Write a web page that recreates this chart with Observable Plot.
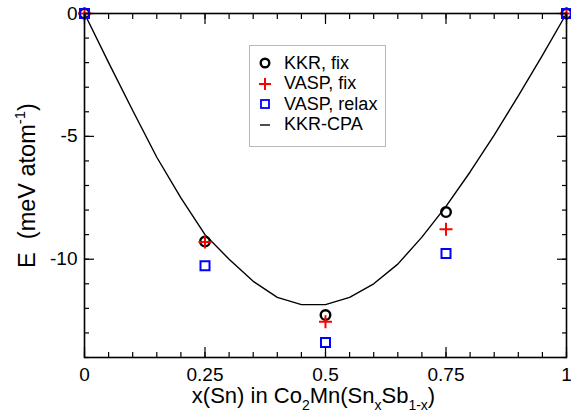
<!DOCTYPE html>
<html>
<head>
<meta charset="utf-8">
<script src="https://cdn.jsdelivr.net/npm/d3@7"></script>
<script src="https://cdn.jsdelivr.net/npm/@observablehq/plot@0.6"></script>
<style>
  body { margin: 0; background: #fff; }
  #wrap { position: relative; width: 571px; height: 414px; font-family: "Liberation Sans", Arial, Helvetica, sans-serif; }
  #legend { position: absolute; left: 249px; top: 45px; width: 137px; height: 102px; border: 1px solid #b8b8b8; box-sizing: border-box; background: #fff; }
  #legend .row { position: absolute; left: 0; height: 20px; display: flex; align-items: center; font-size: 18px; color: #000; white-space: nowrap; }
  #legend svg { width: 20px; height: 20px; }
</style>
</head>
<body>
<div id="wrap"></div>
<script>
// ---- data ----
const xs = [0, 0.25, 0.5, 0.75, 1];
const kkrFix = [0, -9.28, -12.27, -8.08, 0];
const vaspFix = [0, -9.3, -12.54, -8.78, 0];
const vaspRelax = [0, -10.27, -13.39, -9.77, 0];
const cpaX = [0, 0.05, 0.1, 0.15, 0.2, 0.25, 0.3, 0.35, 0.4, 0.45, 0.5, 0.55, 0.6, 0.65, 0.7, 0.75, 0.8, 0.85, 0.9, 0.95, 1];
const cpaE = [0, -2.0, -3.95, -5.85, -7.5, -9.0, -10.0, -10.9, -11.55, -11.85, -11.85, -11.55, -11.0, -10.2, -9.1, -7.85, -6.45, -4.95, -3.35, -1.7, 0];
const xTicks = [0, 0.25, 0.5, 0.75, 1];
const xTickLabels = ["0", "0.25", "0.5", "0.75", "1"];
const yTicks = [0, -5, -10];
const yTickLabels = ["0", "-5", "-10"];
const legendLabels = ["KKR, fix", "VASP, fix", "VASP, relax", "KKR-CPA"];
const xLabelParts = [["x(Sn) in Co", 0], ["2", -1], ["Mn(Sn", 0], ["x", -1], ["Sb", 0], ["1-x", -1], [")", 0]];
const yLabelParts = [["E  (meV atom", 0], ["-1", 1], [")", 0]];

const pts = (ys) => xs.map((x, i) => ({x, y: ys[i]}));
const cpa = cpaX.map((x, i) => ({x, y: cpaE[i]}));
const xMinor = d3.range(0, 1.0001, 0.05);
const yMinor = d3.range(-14, 0.001, 1);

const plusSym = {draw(ctx, size) { const h = Math.sqrt(size / Math.PI); ctx.moveTo(-h, 0); ctx.lineTo(h, 0); ctx.moveTo(0, -h); ctx.lineTo(0, h); }};
const squareSym = {draw(ctx, size) { const h = Math.sqrt(size / Math.PI); ctx.rect(-h, -h, 2 * h, 2 * h); }};

const xPlaceholder = "XLABEL";
const yPlaceholder = "YLABEL";

const plot = Plot.plot({
  width: 571,
  height: 414,
  marginLeft: 84,
  marginRight: 5,
  marginTop: 13,
  marginBottom: 57,
  style: {fontFamily: "'Liberation Sans', Arial, Helvetica, sans-serif", background: "#fff", color: "#000"},
  x: {domain: [0, 1], axis: null},
  y: {domain: [-14, 0], axis: null},
  marks: [
    Plot.line(cpa, {x: "x", y: "y", stroke: "black", strokeWidth: 1.4}),
    Plot.dot(pts(kkrFix), {x: "x", y: "y", r: 4.8, stroke: "black", strokeWidth: 2.4, fill: "none"}),
    Plot.dot(pts(vaspFix), {x: "x", y: "y", r: 6.5, symbol: plusSym, stroke: "#ff0000", strokeWidth: 2, fill: "none"}),
    Plot.dot(pts(vaspRelax), {x: "x", y: "y", r: 4.5, symbol: squareSym, stroke: "#0000ff", strokeWidth: 2, fill: "none"}),
    // ticks (inward)
    Plot.axisX(xMinor, {anchor: "bottom", tickSize: -5, fill: "none", strokeWidth: 1.2}),
    Plot.axisX(xTicks, {anchor: "bottom", tickSize: -10, fill: "none", strokeWidth: 1.2}),
    Plot.axisX(xMinor, {anchor: "top", tickSize: -5, fill: "none", strokeWidth: 1.2}),
    Plot.axisX(xTicks, {anchor: "top", tickSize: -10, fill: "none", strokeWidth: 1.2}),
    Plot.axisY(yMinor, {anchor: "left", tickSize: -5, fill: "none", strokeWidth: 1.2}),
    Plot.axisY(yTicks, {anchor: "left", tickSize: -10, fill: "none", strokeWidth: 1.2}),
    Plot.axisY(yMinor, {anchor: "right", tickSize: -5, fill: "none", strokeWidth: 1.2}),
    Plot.axisY(yTicks, {anchor: "right", tickSize: -10, fill: "none", strokeWidth: 1.2}),
    // tick labels
    Plot.axisX(xTicks, {anchor: "bottom", tickSize: 0, tickPadding: 10, fontSize: 19, label: null, tickFormat: (d) => xTickLabels[xTicks.indexOf(d)]}),
    Plot.axisY(yTicks, {anchor: "left", tickSize: 0, tickPadding: 7, fontSize: 19, label: null, tickFormat: (d) => yTickLabels[yTicks.indexOf(d)]}),
    Plot.frame({stroke: "black", strokeWidth: 1.6}),
    // axis labels
    Plot.text([xPlaceholder], {frameAnchor: "bottom", textAnchor: "middle", lineAnchor: "middle", dx: -12, dy: 38, fontSize: 22, text: (d) => d}),
    Plot.text([yPlaceholder], {frameAnchor: "left", textAnchor: "middle", lineAnchor: "middle", dx: -57, rotate: -90, fontSize: 23.5, text: (d) => d})
  ]
});

document.getElementById("wrap").appendChild(plot);

function fillParts(placeholder, parts, base) {
  d3.select(plot).selectAll("text").each(function() {
    if (this.textContent !== placeholder) return;
    const t = d3.select(this);
    t.text("").style("white-space", "pre").attr("xml:space", "preserve");
    let cur = 0;
    for (const [s, shift] of parts) {
      const target = shift < 0 ? 0.32 * base : shift > 0 ? -0.42 * base : 0;
      const sp = t.append("tspan").attr("font-size", shift ? Math.round(base * 0.65) : base).text(s);
      if (target - cur !== 0) sp.attr("dy", target - cur);
      cur = target;
    }
  });
}
fillParts(xPlaceholder, xLabelParts, 22);
fillParts(yPlaceholder, yLabelParts, 23.5);

// legend
const legend = d3.select("#wrap").append("div").attr("id", "legend");
const symbols = [
  (g) => g.append("circle").attr("cx", 10).attr("cy", 10).attr("r", 4.3).attr("fill", "none").attr("stroke", "black").attr("stroke-width", 2.4),
  (g) => g.append("path").attr("d", "M4,10H16M10,4V16").attr("stroke", "#ff0000").attr("stroke-width", 2).attr("fill", "none"),
  (g) => g.append("rect").attr("x", 6).attr("y", 6).attr("width", 8).attr("height", 8).attr("stroke", "#0000ff").attr("stroke-width", 1.8).attr("fill", "none"),
  (g) => g.append("path").attr("d", "M5,10H15").attr("stroke", "black").attr("stroke-width", 1.4)
];
legendLabels.forEach((lab, i) => {
  const row = legend.append("div").attr("class", "row").style("top", (7 + i * 20.5) + "px").style("left", "5px");
  const sv = row.append("svg").attr("viewBox", "0 0 20 20");
  symbols[i](sv);
  row.append("span").text(lab).style("margin-left", "9px");
});
</script>
</body>
</html>
